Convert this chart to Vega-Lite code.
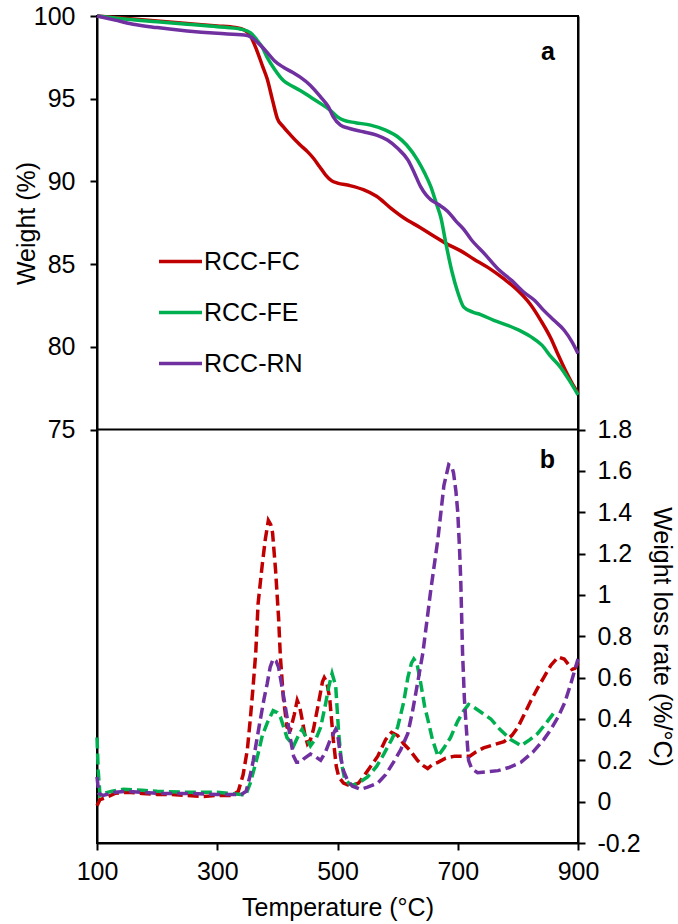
{
  "$schema": "https://vega.github.io/schema/vega-lite/v6.json",
  "width": 481,
  "height": 827,
  "autosize": {"type": "none"},
  "padding": {"left": 97, "top": 16, "right": 100, "bottom": 81},
  "background": "white",
  "config": {
    "font": "Liberation Sans",
    "view": {"stroke": "black", "strokeWidth": 2},
    "axis": {
      "grid": false,
      "domainColor": "black",
      "domainWidth": 2,
      "tickColor": "black",
      "tickWidth": 2,
      "tickSize": 7,
      "labelFontSize": 25,
      "labelColor": "black",
      "labelFlush": false,
      "labelOverlap": false,
      "titleFontSize": 25,
      "titleFontWeight": "normal",
      "titleColor": "black"
    }
  },
  "datasets": {
    "tga": [
      {"series": "RCC-FC", "T": 100, "weight": 100},
      {"series": "RCC-FC", "T": 150, "weight": 99.85},
      {"series": "RCC-FC", "T": 200, "weight": 99.7},
      {"series": "RCC-FC", "T": 250, "weight": 99.55},
      {"series": "RCC-FC", "T": 300, "weight": 99.4},
      {"series": "RCC-FC", "T": 330, "weight": 99.3},
      {"series": "RCC-FC", "T": 345, "weight": 99.15},
      {"series": "RCC-FC", "T": 355, "weight": 98.8},
      {"series": "RCC-FC", "T": 365, "weight": 98.0},
      {"series": "RCC-FC", "T": 375, "weight": 97.0},
      {"series": "RCC-FC", "T": 383, "weight": 96.2},
      {"series": "RCC-FC", "T": 392, "weight": 94.9},
      {"series": "RCC-FC", "T": 400, "weight": 93.8},
      {"series": "RCC-FC", "T": 410, "weight": 93.3},
      {"series": "RCC-FC", "T": 422, "weight": 92.8},
      {"series": "RCC-FC", "T": 438, "weight": 92.2},
      {"series": "RCC-FC", "T": 450, "weight": 91.8},
      {"series": "RCC-FC", "T": 460, "weight": 91.4},
      {"series": "RCC-FC", "T": 470, "weight": 90.9},
      {"series": "RCC-FC", "T": 480, "weight": 90.4},
      {"series": "RCC-FC", "T": 490, "weight": 90.05},
      {"series": "RCC-FC", "T": 500, "weight": 89.9},
      {"series": "RCC-FC", "T": 520, "weight": 89.75},
      {"series": "RCC-FC", "T": 543, "weight": 89.5},
      {"series": "RCC-FC", "T": 565, "weight": 89.1},
      {"series": "RCC-FC", "T": 588, "weight": 88.4},
      {"series": "RCC-FC", "T": 610, "weight": 87.8},
      {"series": "RCC-FC", "T": 638, "weight": 87.2},
      {"series": "RCC-FC", "T": 660, "weight": 86.7},
      {"series": "RCC-FC", "T": 683, "weight": 86.2},
      {"series": "RCC-FC", "T": 705, "weight": 85.8},
      {"series": "RCC-FC", "T": 727, "weight": 85.3},
      {"series": "RCC-FC", "T": 750, "weight": 84.8},
      {"series": "RCC-FC", "T": 777, "weight": 84.1},
      {"series": "RCC-FC", "T": 800, "weight": 83.4},
      {"series": "RCC-FC", "T": 820, "weight": 82.6},
      {"series": "RCC-FC", "T": 838, "weight": 81.6},
      {"series": "RCC-FC", "T": 855, "weight": 80.5},
      {"series": "RCC-FC", "T": 866, "weight": 79.6},
      {"series": "RCC-FC", "T": 880, "weight": 78.5},
      {"series": "RCC-FC", "T": 890, "weight": 77.8},
      {"series": "RCC-FC", "T": 900, "weight": 77.2},
      {"series": "RCC-FE", "T": 100, "weight": 100},
      {"series": "RCC-FE", "T": 150, "weight": 99.8},
      {"series": "RCC-FE", "T": 200, "weight": 99.65},
      {"series": "RCC-FE", "T": 250, "weight": 99.5},
      {"series": "RCC-FE", "T": 300, "weight": 99.35},
      {"series": "RCC-FE", "T": 340, "weight": 99.2},
      {"series": "RCC-FE", "T": 355, "weight": 99.0},
      {"series": "RCC-FE", "T": 365, "weight": 98.6},
      {"series": "RCC-FE", "T": 375, "weight": 98.1},
      {"series": "RCC-FE", "T": 383, "weight": 97.5},
      {"series": "RCC-FE", "T": 395, "weight": 96.8},
      {"series": "RCC-FE", "T": 410, "weight": 96.1},
      {"series": "RCC-FE", "T": 425, "weight": 95.75},
      {"series": "RCC-FE", "T": 438, "weight": 95.5},
      {"series": "RCC-FE", "T": 455, "weight": 95.1},
      {"series": "RCC-FE", "T": 472, "weight": 94.7},
      {"series": "RCC-FE", "T": 488, "weight": 94.3},
      {"series": "RCC-FE", "T": 500, "weight": 93.9},
      {"series": "RCC-FE", "T": 510, "weight": 93.7},
      {"series": "RCC-FE", "T": 530, "weight": 93.55},
      {"series": "RCC-FE", "T": 555, "weight": 93.4},
      {"series": "RCC-FE", "T": 580, "weight": 93.1},
      {"series": "RCC-FE", "T": 600, "weight": 92.7},
      {"series": "RCC-FE", "T": 615, "weight": 92.2},
      {"series": "RCC-FE", "T": 633, "weight": 91.3},
      {"series": "RCC-FE", "T": 645, "weight": 90.5},
      {"series": "RCC-FE", "T": 655, "weight": 89.7},
      {"series": "RCC-FE", "T": 665, "weight": 88.6},
      {"series": "RCC-FE", "T": 672, "weight": 87.8},
      {"series": "RCC-FE", "T": 680, "weight": 86.3},
      {"series": "RCC-FE", "T": 690, "weight": 84.6},
      {"series": "RCC-FE", "T": 700, "weight": 83.3},
      {"series": "RCC-FE", "T": 710, "weight": 82.4},
      {"series": "RCC-FE", "T": 725, "weight": 82.1},
      {"series": "RCC-FE", "T": 738, "weight": 81.95},
      {"series": "RCC-FE", "T": 760, "weight": 81.6},
      {"series": "RCC-FE", "T": 783, "weight": 81.3},
      {"series": "RCC-FE", "T": 805, "weight": 80.95},
      {"series": "RCC-FE", "T": 822, "weight": 80.6},
      {"series": "RCC-FE", "T": 840, "weight": 80.1},
      {"series": "RCC-FE", "T": 855, "weight": 79.4},
      {"series": "RCC-FE", "T": 870, "weight": 78.8},
      {"series": "RCC-FE", "T": 885, "weight": 78.0},
      {"series": "RCC-FE", "T": 900, "weight": 77.1},
      {"series": "RCC-RN", "T": 100, "weight": 100},
      {"series": "RCC-RN", "T": 130, "weight": 99.75},
      {"series": "RCC-RN", "T": 160, "weight": 99.5},
      {"series": "RCC-RN", "T": 200, "weight": 99.3},
      {"series": "RCC-RN", "T": 250, "weight": 99.1},
      {"series": "RCC-RN", "T": 300, "weight": 98.95},
      {"series": "RCC-RN", "T": 345, "weight": 98.85},
      {"series": "RCC-RN", "T": 355, "weight": 98.75},
      {"series": "RCC-RN", "T": 370, "weight": 98.3},
      {"series": "RCC-RN", "T": 383, "weight": 97.8},
      {"series": "RCC-RN", "T": 395, "weight": 97.3},
      {"series": "RCC-RN", "T": 410, "weight": 96.9},
      {"series": "RCC-RN", "T": 425, "weight": 96.6},
      {"series": "RCC-RN", "T": 438, "weight": 96.3},
      {"series": "RCC-RN", "T": 455, "weight": 95.8},
      {"series": "RCC-RN", "T": 472, "weight": 95.1},
      {"series": "RCC-RN", "T": 485, "weight": 94.5},
      {"series": "RCC-RN", "T": 493, "weight": 93.9},
      {"series": "RCC-RN", "T": 505, "weight": 93.4},
      {"series": "RCC-RN", "T": 520, "weight": 93.2},
      {"series": "RCC-RN", "T": 543, "weight": 93.0},
      {"series": "RCC-RN", "T": 565, "weight": 92.8},
      {"series": "RCC-RN", "T": 583, "weight": 92.5},
      {"series": "RCC-RN", "T": 600, "weight": 92.0},
      {"series": "RCC-RN", "T": 617, "weight": 91.3},
      {"series": "RCC-RN", "T": 628, "weight": 90.5},
      {"series": "RCC-RN", "T": 638, "weight": 89.7},
      {"series": "RCC-RN", "T": 647, "weight": 89.2},
      {"series": "RCC-RN", "T": 655, "weight": 88.9},
      {"series": "RCC-RN", "T": 668, "weight": 88.6},
      {"series": "RCC-RN", "T": 683, "weight": 88.2},
      {"series": "RCC-RN", "T": 697, "weight": 87.6},
      {"series": "RCC-RN", "T": 710, "weight": 87.1},
      {"series": "RCC-RN", "T": 722, "weight": 86.5},
      {"series": "RCC-RN", "T": 745, "weight": 85.6},
      {"series": "RCC-RN", "T": 767, "weight": 84.7},
      {"series": "RCC-RN", "T": 790, "weight": 84.0},
      {"series": "RCC-RN", "T": 810, "weight": 83.3},
      {"series": "RCC-RN", "T": 828, "weight": 82.8},
      {"series": "RCC-RN", "T": 843, "weight": 82.2},
      {"series": "RCC-RN", "T": 860, "weight": 81.6},
      {"series": "RCC-RN", "T": 877, "weight": 81.0},
      {"series": "RCC-RN", "T": 890, "weight": 80.3},
      {"series": "RCC-RN", "T": 900, "weight": 79.6}
    ],
    "dtg": [
      {"series": "RCC-FC", "T": 100, "rate": -0.02},
      {"series": "RCC-FC", "T": 105, "rate": 0.01},
      {"series": "RCC-FC", "T": 115, "rate": 0.02},
      {"series": "RCC-FC", "T": 130, "rate": 0.04},
      {"series": "RCC-FC", "T": 150, "rate": 0.045},
      {"series": "RCC-FC", "T": 175, "rate": 0.04},
      {"series": "RCC-FC", "T": 200, "rate": 0.035},
      {"series": "RCC-FC", "T": 225, "rate": 0.035},
      {"series": "RCC-FC", "T": 250, "rate": 0.03},
      {"series": "RCC-FC", "T": 275, "rate": 0.025},
      {"series": "RCC-FC", "T": 300, "rate": 0.03},
      {"series": "RCC-FC", "T": 325, "rate": 0.03},
      {"series": "RCC-FC", "T": 335, "rate": 0.05},
      {"series": "RCC-FC", "T": 343, "rate": 0.13},
      {"series": "RCC-FC", "T": 350, "rate": 0.25},
      {"series": "RCC-FC", "T": 355, "rate": 0.4},
      {"series": "RCC-FC", "T": 360, "rate": 0.57},
      {"series": "RCC-FC", "T": 364, "rate": 0.72},
      {"series": "RCC-FC", "T": 368, "rate": 0.96},
      {"series": "RCC-FC", "T": 375, "rate": 1.15},
      {"series": "RCC-FC", "T": 380, "rate": 1.27},
      {"series": "RCC-FC", "T": 385, "rate": 1.36},
      {"series": "RCC-FC", "T": 389, "rate": 1.34},
      {"series": "RCC-FC", "T": 392, "rate": 1.3},
      {"series": "RCC-FC", "T": 397, "rate": 1.12},
      {"series": "RCC-FC", "T": 402, "rate": 0.89},
      {"series": "RCC-FC", "T": 405, "rate": 0.7},
      {"series": "RCC-FC", "T": 410, "rate": 0.5},
      {"series": "RCC-FC", "T": 416, "rate": 0.36},
      {"series": "RCC-FC", "T": 422, "rate": 0.35},
      {"series": "RCC-FC", "T": 428, "rate": 0.42},
      {"series": "RCC-FC", "T": 433, "rate": 0.49},
      {"series": "RCC-FC", "T": 437, "rate": 0.46},
      {"series": "RCC-FC", "T": 441, "rate": 0.4},
      {"series": "RCC-FC", "T": 446, "rate": 0.32},
      {"series": "RCC-FC", "T": 450, "rate": 0.28},
      {"series": "RCC-FC", "T": 455, "rate": 0.3},
      {"series": "RCC-FC", "T": 460, "rate": 0.35},
      {"series": "RCC-FC", "T": 468, "rate": 0.47},
      {"series": "RCC-FC", "T": 475, "rate": 0.58},
      {"series": "RCC-FC", "T": 478, "rate": 0.6},
      {"series": "RCC-FC", "T": 482, "rate": 0.58},
      {"series": "RCC-FC", "T": 487, "rate": 0.5},
      {"series": "RCC-FC", "T": 493, "rate": 0.3},
      {"series": "RCC-FC", "T": 498, "rate": 0.17},
      {"series": "RCC-FC", "T": 502, "rate": 0.12},
      {"series": "RCC-FC", "T": 510, "rate": 0.09},
      {"series": "RCC-FC", "T": 522, "rate": 0.075},
      {"series": "RCC-FC", "T": 535, "rate": 0.09},
      {"series": "RCC-FC", "T": 543, "rate": 0.12},
      {"series": "RCC-FC", "T": 555, "rate": 0.17},
      {"series": "RCC-FC", "T": 567, "rate": 0.22},
      {"series": "RCC-FC", "T": 580, "rate": 0.3},
      {"series": "RCC-FC", "T": 590, "rate": 0.335},
      {"series": "RCC-FC", "T": 600, "rate": 0.32},
      {"series": "RCC-FC", "T": 610, "rate": 0.28},
      {"series": "RCC-FC", "T": 620, "rate": 0.25},
      {"series": "RCC-FC", "T": 633, "rate": 0.2},
      {"series": "RCC-FC", "T": 642, "rate": 0.175},
      {"series": "RCC-FC", "T": 650, "rate": 0.16},
      {"series": "RCC-FC", "T": 658, "rate": 0.18},
      {"series": "RCC-FC", "T": 667, "rate": 0.19},
      {"series": "RCC-FC", "T": 680, "rate": 0.21},
      {"series": "RCC-FC", "T": 695, "rate": 0.22},
      {"series": "RCC-FC", "T": 710, "rate": 0.22},
      {"series": "RCC-FC", "T": 720, "rate": 0.22},
      {"series": "RCC-FC", "T": 730, "rate": 0.24},
      {"series": "RCC-FC", "T": 743, "rate": 0.26},
      {"series": "RCC-FC", "T": 760, "rate": 0.275},
      {"series": "RCC-FC", "T": 777, "rate": 0.29},
      {"series": "RCC-FC", "T": 790, "rate": 0.32},
      {"series": "RCC-FC", "T": 800, "rate": 0.36},
      {"series": "RCC-FC", "T": 812, "rate": 0.43},
      {"series": "RCC-FC", "T": 822, "rate": 0.49},
      {"series": "RCC-FC", "T": 833, "rate": 0.55},
      {"series": "RCC-FC", "T": 843, "rate": 0.6},
      {"series": "RCC-FC", "T": 855, "rate": 0.66},
      {"series": "RCC-FC", "T": 867, "rate": 0.7},
      {"series": "RCC-FC", "T": 877, "rate": 0.69},
      {"series": "RCC-FC", "T": 885, "rate": 0.66},
      {"series": "RCC-FC", "T": 890, "rate": 0.64},
      {"series": "RCC-FC", "T": 895, "rate": 0.645},
      {"series": "RCC-FC", "T": 900, "rate": 0.67},
      {"series": "RCC-FE", "T": 100, "rate": 0.31},
      {"series": "RCC-FE", "T": 102, "rate": 0.15},
      {"series": "RCC-FE", "T": 105, "rate": 0.03},
      {"series": "RCC-FE", "T": 110, "rate": 0.04},
      {"series": "RCC-FE", "T": 125, "rate": 0.05},
      {"series": "RCC-FE", "T": 144, "rate": 0.06},
      {"series": "RCC-FE", "T": 175, "rate": 0.055},
      {"series": "RCC-FE", "T": 200, "rate": 0.05},
      {"series": "RCC-FE", "T": 250, "rate": 0.045},
      {"series": "RCC-FE", "T": 300, "rate": 0.045},
      {"series": "RCC-FE", "T": 340, "rate": 0.035},
      {"series": "RCC-FE", "T": 347, "rate": 0.03},
      {"series": "RCC-FE", "T": 355, "rate": 0.09},
      {"series": "RCC-FE", "T": 367, "rate": 0.22},
      {"series": "RCC-FE", "T": 375, "rate": 0.32},
      {"series": "RCC-FE", "T": 383, "rate": 0.38},
      {"series": "RCC-FE", "T": 393, "rate": 0.44},
      {"series": "RCC-FE", "T": 400, "rate": 0.43},
      {"series": "RCC-FE", "T": 405, "rate": 0.41},
      {"series": "RCC-FE", "T": 416, "rate": 0.31},
      {"series": "RCC-FE", "T": 427, "rate": 0.27},
      {"series": "RCC-FE", "T": 435, "rate": 0.32},
      {"series": "RCC-FE", "T": 441, "rate": 0.35},
      {"series": "RCC-FE", "T": 448, "rate": 0.31},
      {"series": "RCC-FE", "T": 455, "rate": 0.27},
      {"series": "RCC-FE", "T": 465, "rate": 0.31},
      {"series": "RCC-FE", "T": 472, "rate": 0.36},
      {"series": "RCC-FE", "T": 480, "rate": 0.47},
      {"series": "RCC-FE", "T": 485, "rate": 0.55},
      {"series": "RCC-FE", "T": 491, "rate": 0.62},
      {"series": "RCC-FE", "T": 497, "rate": 0.56},
      {"series": "RCC-FE", "T": 502, "rate": 0.33},
      {"series": "RCC-FE", "T": 507, "rate": 0.18},
      {"series": "RCC-FE", "T": 512, "rate": 0.11},
      {"series": "RCC-FE", "T": 520, "rate": 0.085},
      {"series": "RCC-FE", "T": 527, "rate": 0.08},
      {"series": "RCC-FE", "T": 540, "rate": 0.1},
      {"series": "RCC-FE", "T": 550, "rate": 0.12},
      {"series": "RCC-FE", "T": 565, "rate": 0.17},
      {"series": "RCC-FE", "T": 577, "rate": 0.23},
      {"series": "RCC-FE", "T": 590, "rate": 0.3},
      {"series": "RCC-FE", "T": 600, "rate": 0.36},
      {"series": "RCC-FE", "T": 610, "rate": 0.48},
      {"series": "RCC-FE", "T": 617, "rate": 0.6},
      {"series": "RCC-FE", "T": 623, "rate": 0.67},
      {"series": "RCC-FE", "T": 627, "rate": 0.69},
      {"series": "RCC-FE", "T": 632, "rate": 0.67},
      {"series": "RCC-FE", "T": 638, "rate": 0.58},
      {"series": "RCC-FE", "T": 645, "rate": 0.46},
      {"series": "RCC-FE", "T": 650, "rate": 0.4},
      {"series": "RCC-FE", "T": 658, "rate": 0.3},
      {"series": "RCC-FE", "T": 667, "rate": 0.22},
      {"series": "RCC-FE", "T": 677, "rate": 0.26},
      {"series": "RCC-FE", "T": 688, "rate": 0.31},
      {"series": "RCC-FE", "T": 700, "rate": 0.39},
      {"series": "RCC-FE", "T": 710, "rate": 0.44},
      {"series": "RCC-FE", "T": 718, "rate": 0.47},
      {"series": "RCC-FE", "T": 725, "rate": 0.46},
      {"series": "RCC-FE", "T": 740, "rate": 0.43},
      {"series": "RCC-FE", "T": 755, "rate": 0.4},
      {"series": "RCC-FE", "T": 770, "rate": 0.35},
      {"series": "RCC-FE", "T": 788, "rate": 0.3},
      {"series": "RCC-FE", "T": 800, "rate": 0.28},
      {"series": "RCC-FE", "T": 805, "rate": 0.27},
      {"series": "RCC-FE", "T": 820, "rate": 0.3},
      {"series": "RCC-FE", "T": 833, "rate": 0.33},
      {"series": "RCC-FE", "T": 847, "rate": 0.38},
      {"series": "RCC-FE", "T": 860, "rate": 0.43},
      {"series": "RCC-RN", "T": 100, "rate": 0.12},
      {"series": "RCC-RN", "T": 103, "rate": 0.04},
      {"series": "RCC-RN", "T": 110, "rate": 0.03},
      {"series": "RCC-RN", "T": 130, "rate": 0.045},
      {"series": "RCC-RN", "T": 150, "rate": 0.05},
      {"series": "RCC-RN", "T": 200, "rate": 0.04},
      {"series": "RCC-RN", "T": 250, "rate": 0.04},
      {"series": "RCC-RN", "T": 300, "rate": 0.035},
      {"series": "RCC-RN", "T": 340, "rate": 0.035},
      {"series": "RCC-RN", "T": 348, "rate": 0.05},
      {"series": "RCC-RN", "T": 355, "rate": 0.13},
      {"series": "RCC-RN", "T": 360, "rate": 0.2},
      {"series": "RCC-RN", "T": 370, "rate": 0.37},
      {"series": "RCC-RN", "T": 378, "rate": 0.5},
      {"series": "RCC-RN", "T": 383, "rate": 0.57},
      {"series": "RCC-RN", "T": 388, "rate": 0.65},
      {"series": "RCC-RN", "T": 393, "rate": 0.69},
      {"series": "RCC-RN", "T": 398, "rate": 0.68},
      {"series": "RCC-RN", "T": 402, "rate": 0.65},
      {"series": "RCC-RN", "T": 408, "rate": 0.55},
      {"series": "RCC-RN", "T": 416, "rate": 0.41},
      {"series": "RCC-RN", "T": 422, "rate": 0.3},
      {"series": "RCC-RN", "T": 427, "rate": 0.22},
      {"series": "RCC-RN", "T": 432, "rate": 0.19},
      {"series": "RCC-RN", "T": 438, "rate": 0.19},
      {"series": "RCC-RN", "T": 445, "rate": 0.21},
      {"series": "RCC-RN", "T": 455, "rate": 0.23},
      {"series": "RCC-RN", "T": 462, "rate": 0.22},
      {"series": "RCC-RN", "T": 472, "rate": 0.2},
      {"series": "RCC-RN", "T": 480, "rate": 0.24},
      {"series": "RCC-RN", "T": 488, "rate": 0.3},
      {"series": "RCC-RN", "T": 497, "rate": 0.35},
      {"series": "RCC-RN", "T": 500, "rate": 0.33},
      {"series": "RCC-RN", "T": 505, "rate": 0.22},
      {"series": "RCC-RN", "T": 510, "rate": 0.15},
      {"series": "RCC-RN", "T": 517, "rate": 0.1},
      {"series": "RCC-RN", "T": 525, "rate": 0.075},
      {"series": "RCC-RN", "T": 538, "rate": 0.06},
      {"series": "RCC-RN", "T": 550, "rate": 0.07},
      {"series": "RCC-RN", "T": 567, "rate": 0.09},
      {"series": "RCC-RN", "T": 580, "rate": 0.13},
      {"series": "RCC-RN", "T": 593, "rate": 0.19},
      {"series": "RCC-RN", "T": 605, "rate": 0.25},
      {"series": "RCC-RN", "T": 617, "rate": 0.33},
      {"series": "RCC-RN", "T": 625, "rate": 0.44},
      {"series": "RCC-RN", "T": 633, "rate": 0.57},
      {"series": "RCC-RN", "T": 642, "rate": 0.72},
      {"series": "RCC-RN", "T": 655, "rate": 1.02},
      {"series": "RCC-RN", "T": 667, "rate": 1.27},
      {"series": "RCC-RN", "T": 677, "rate": 1.53},
      {"series": "RCC-RN", "T": 685, "rate": 1.63},
      {"series": "RCC-RN", "T": 690, "rate": 1.62},
      {"series": "RCC-RN", "T": 693, "rate": 1.59},
      {"series": "RCC-RN", "T": 697, "rate": 1.5},
      {"series": "RCC-RN", "T": 700, "rate": 1.4},
      {"series": "RCC-RN", "T": 703, "rate": 1.22},
      {"series": "RCC-RN", "T": 705, "rate": 1.07},
      {"series": "RCC-RN", "T": 708, "rate": 0.72},
      {"series": "RCC-RN", "T": 711, "rate": 0.5},
      {"series": "RCC-RN", "T": 713, "rate": 0.41},
      {"series": "RCC-RN", "T": 716, "rate": 0.28},
      {"series": "RCC-RN", "T": 718, "rate": 0.2},
      {"series": "RCC-RN", "T": 723, "rate": 0.16},
      {"series": "RCC-RN", "T": 733, "rate": 0.14},
      {"series": "RCC-RN", "T": 750, "rate": 0.145},
      {"series": "RCC-RN", "T": 767, "rate": 0.15},
      {"series": "RCC-RN", "T": 785, "rate": 0.165},
      {"series": "RCC-RN", "T": 805, "rate": 0.19},
      {"series": "RCC-RN", "T": 825, "rate": 0.24},
      {"series": "RCC-RN", "T": 843, "rate": 0.3},
      {"series": "RCC-RN", "T": 855, "rate": 0.35},
      {"series": "RCC-RN", "T": 867, "rate": 0.41},
      {"series": "RCC-RN", "T": 878, "rate": 0.48},
      {"series": "RCC-RN", "T": 888, "rate": 0.57},
      {"series": "RCC-RN", "T": 895, "rate": 0.64},
      {"series": "RCC-RN", "T": 900, "rate": 0.69}
    ]
  },
  "layer": [
    {
      "layer": [
        {
          "data": {"name": "tga"},
          "mark": {"type": "line", "strokeWidth": 3.5, "interpolate": "monotone"},
          "encoding": {
            "x": {
              "field": "T",
              "type": "quantitative",
              "scale": {"domain": [100, 900], "nice": false},
              "axis": {
                "values": [100, 300, 500, 700, 900],
                "title": "Temperature (°C)",
                "labelPadding": 9,
                "titleBaseline": "alphabetic",
                "titleY": 72
              }
            },
            "y": {
              "field": "weight",
              "type": "quantitative",
              "scale": {"domain": [50, 100], "nice": false, "zero": false},
              "axis": {
                "orient": "left",
                "values": [75, 80, 85, 90, 95, 100],
                "title": "Weight (%)",
                "titleX": -71,
                "titleY": 207,
                "titleBaseline": "middle",
                "labelPadding": 15
              }
            },
            "color": {
              "field": "series",
              "type": "nominal",
              "scale": {"domain": ["RCC-FC", "RCC-FE", "RCC-RN"], "range": ["#C00000", "#00B050", "#7030A0"]},
              "legend": {
                "orient": "none",
                "legendX": 60,
                "legendY": 222,
                "title": null,
                "padding": 0,
                "symbolType": "stroke",
                "symbolSize": 1849,
                "symbolStrokeWidth": 3.5,
                "labelFontSize": 25,
                "labelColor": "black",
                "labelOffset": 0,
                "rowPadding": 14
              }
            }
          }
        },
        {
          "data": {"values": [{}]},
          "mark": {"type": "rule", "color": "black", "strokeWidth": 2},
          "encoding": {"y": {"datum": 75}}
        },
        {
          "data": {"values": [{}]},
          "mark": {"type": "text", "fontSize": 25, "fontWeight": "bold", "align": "center", "baseline": "alphabetic", "color": "black"},
          "encoding": {"x": {"datum": 850}, "y": {"datum": 97.34}, "text": {"value": "a"}}
        }
      ]
    },
    {
      "layer": [
        {
          "data": {"name": "dtg"},
          "mark": {"type": "line", "strokeWidth": 3.5, "strokeDash": [11, 5]},
          "encoding": {
            "x": {"field": "T", "type": "quantitative"},
            "y": {
              "field": "rate",
              "type": "quantitative",
              "scale": {"domain": [-0.2, 3.8], "nice": false, "zero": false},
              "axis": {
                "orient": "right",
                "values": [-0.2, 0, 0.2, 0.4, 0.6, 0.8, 1, 1.2, 1.4, 1.6, 1.8],
                "format": "~g",
                "labelExpr": "replace(datum.label, '\u2212', '-')",
                "title": "Weight loss rate (%/°C)",
                "titleX": 83,
                "titleY": 620.5,
                "titleBaseline": "middle",
                "labelPadding": 12
              }
            },
            "color": {"field": "series", "type": "nominal", "legend": null}
          }
        },
        {
          "data": {"values": [{}]},
          "mark": {"type": "text", "fontSize": 25, "fontWeight": "bold", "align": "center", "baseline": "alphabetic", "color": "black"},
          "encoding": {"x": {"datum": 849}, "y": {"datum": 1.614}, "text": {"value": "b"}}
        }
      ]
    }
  ],
  "resolve": {"scale": {"y": "independent"}}
}
